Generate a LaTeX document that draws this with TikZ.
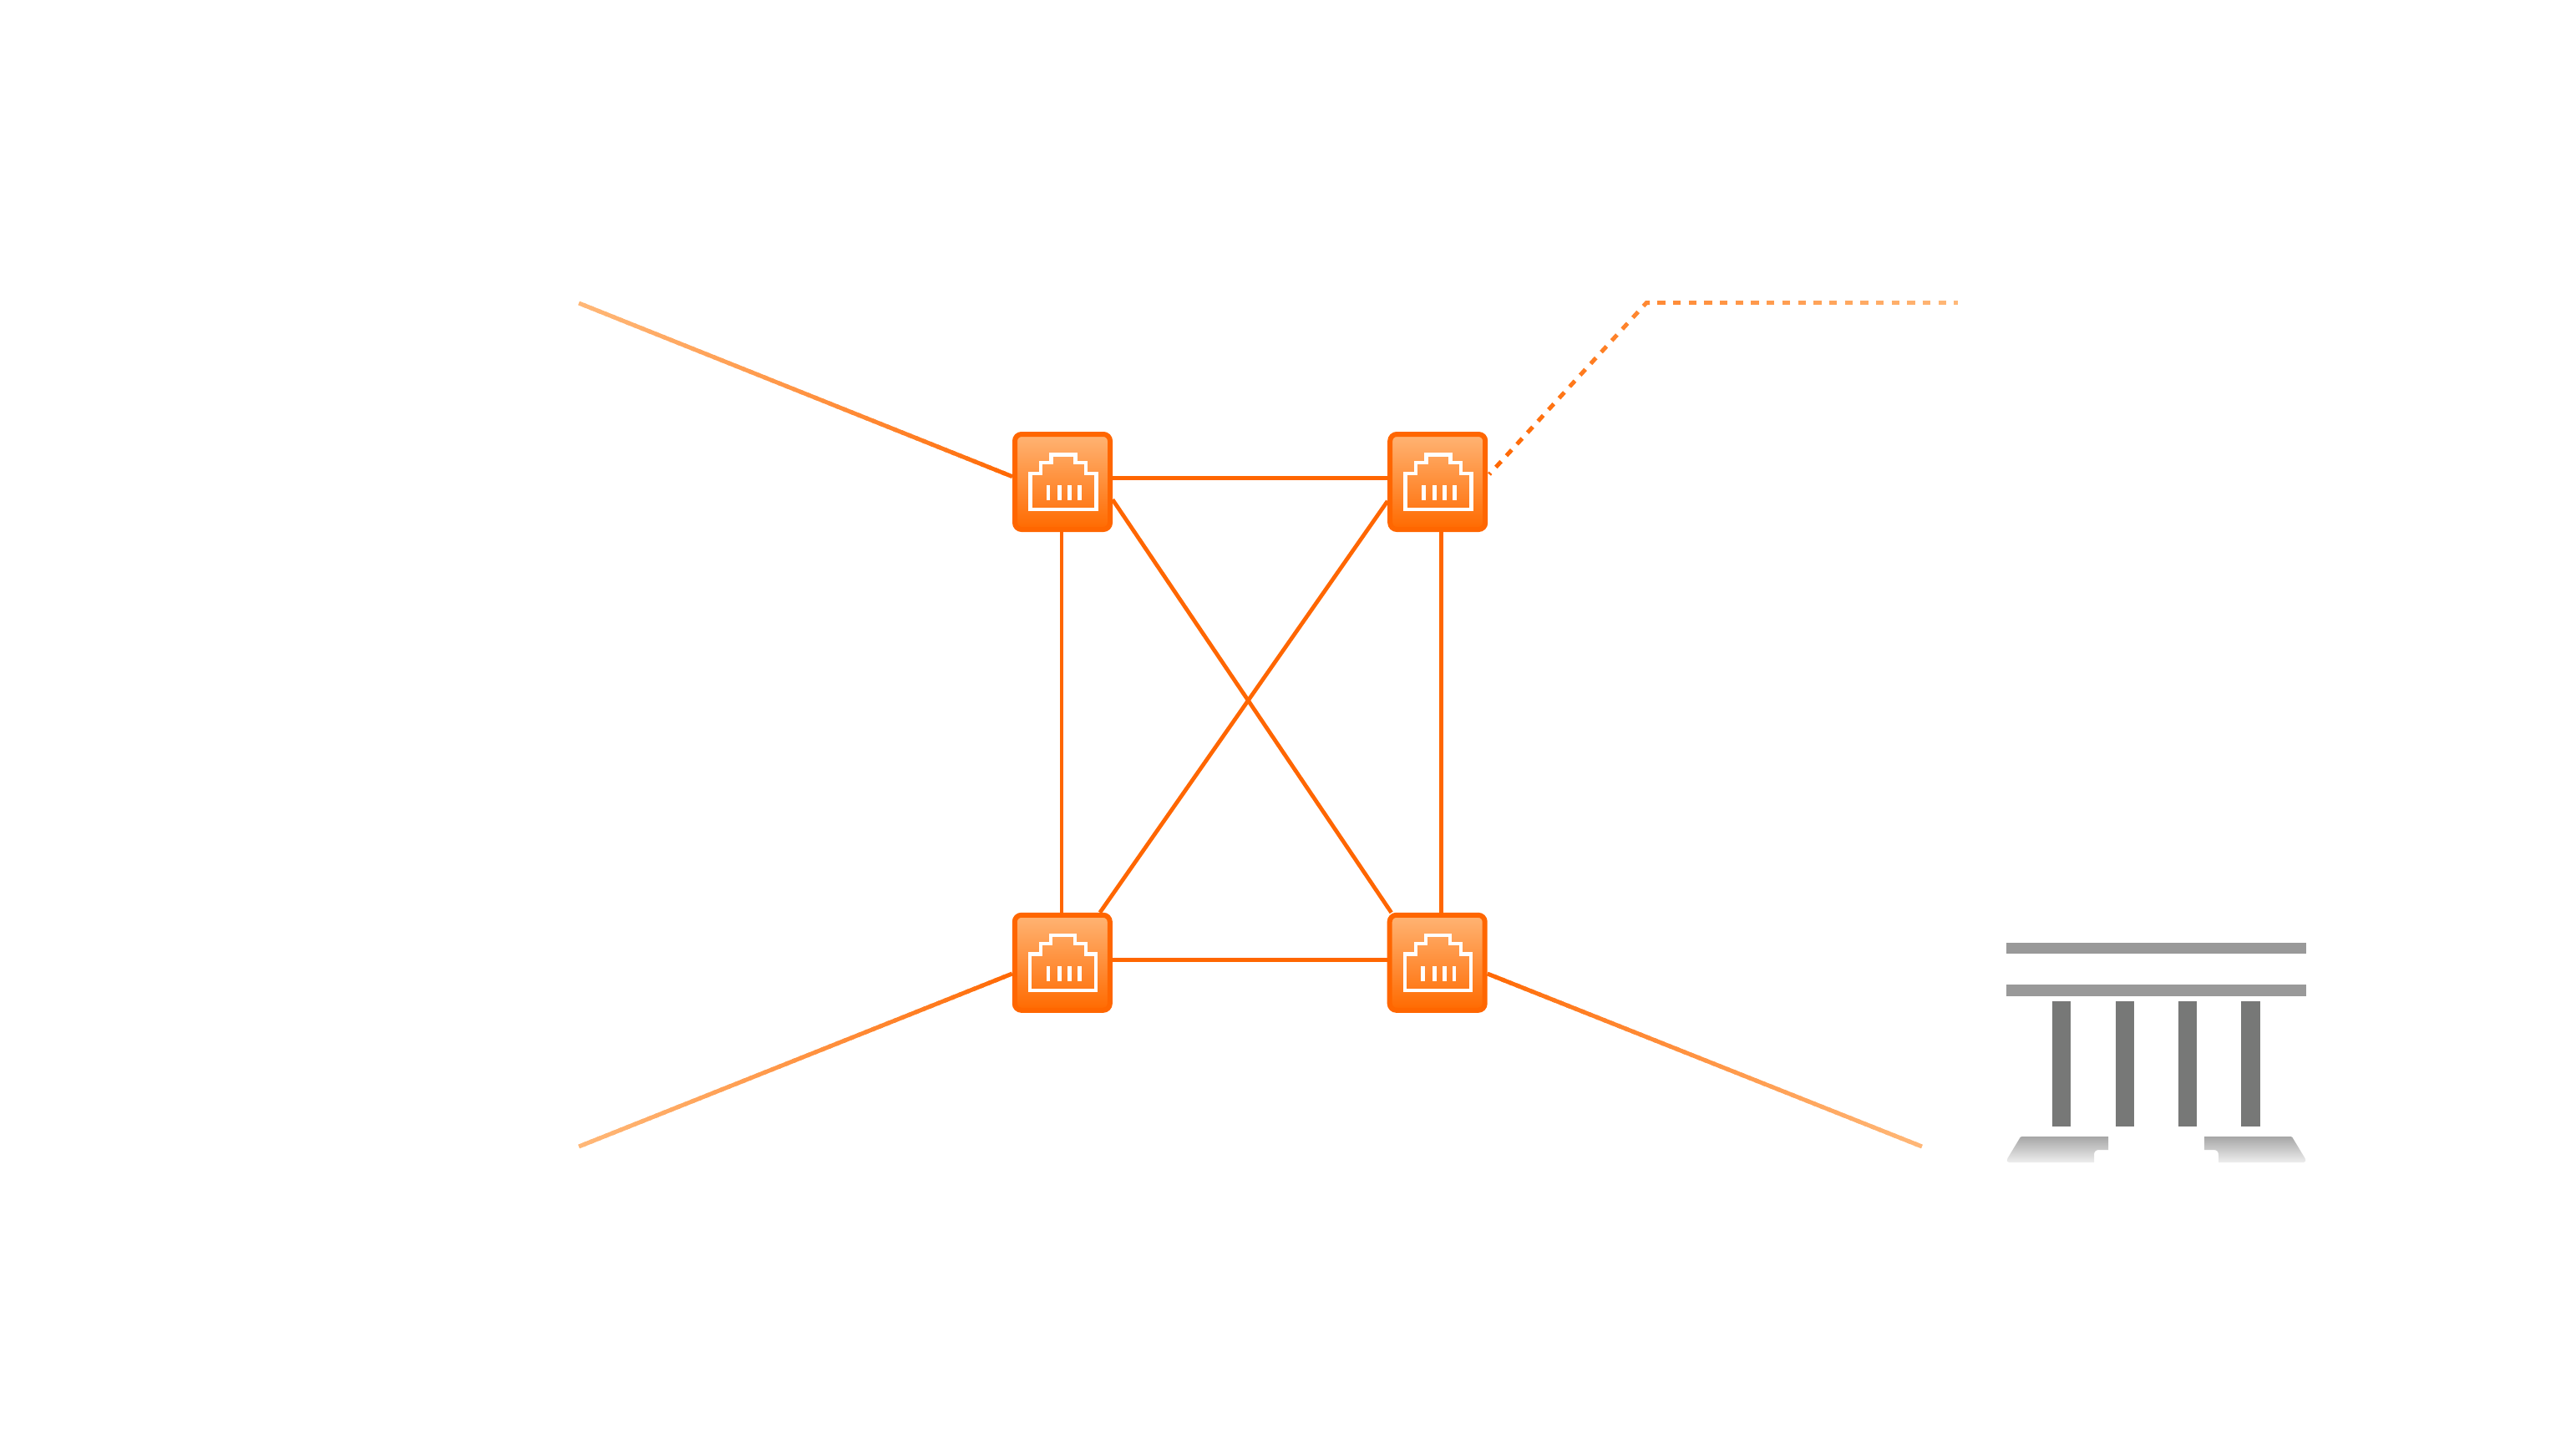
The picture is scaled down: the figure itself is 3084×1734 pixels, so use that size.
\documentclass[tikz,border=0pt]{standalone}
\usetikzlibrary{calc,backgrounds}
\definecolor{lineNear}{HTML}{FF6600}
\definecolor{lineFar}{HTML}{FFB878}
\definecolor{faceTop}{HTML}{FFB474}
\definecolor{faceBottom}{HTML}{FF6A00}
\definecolor{railGray}{HTML}{999999}
\definecolor{pillarGray}{HTML}{777877}
\definecolor{baseTop}{HTML}{A6A6A6}
\definecolor{baseBottom}{HTML}{EEEEEE}
\tikzset{
  switchbox/.style={rectangle,draw=lineNear,line width=6pt,rounded corners=8pt,
    top color=faceTop,bottom color=faceBottom,minimum size=114pt,inner sep=0pt,outer sep=3pt},
  link/.style={draw=lineNear,line width=4.8pt},
  fadelink/.style={line width=5pt},
  rjport/.pic={
    \draw[white,line width=4.4pt,miter limit=4]
      (-38.7,33) -- (-38.7,-10.3) -- (-26,-10.3) -- (-26,-23) -- (-13.7,-23) -- (-13.7,-32.7)
      -- (15.3,-32.7) -- (15.3,-23) -- (28,-23) -- (28,-10.3) -- (40.3,-10.3) -- (40.3,33) -- cycle;
    \fill[white] (-19.3,4) rectangle (-14.7,21.7);
    \fill[white] (-6,4) rectangle (-1,21.7);
    \fill[white] (6,4) rectangle (11,21.7);
    \fill[white] (18,4) rectangle (22.7,21.7);
  }
}
\newcommand\gradlink[2]{%
  \foreach \i in {1,...,60}{%
    \pgfmathsetmacro\ga{(\i-1)/60}%
    \pgfmathsetmacro\gb{min((\i+0.4)/60,1)}%
    \pgfmathsetmacro\gm{100*((\i-0.5)/60)^0.8}%
    \draw[fadelink,draw={lineFar!\gm!lineNear}] ($(#1)!\ga!(#2)$) -- ($(#1)!\gb!(#2)$);
  }%
}
\begin{document}
\begin{tikzpicture}[x=1pt,y=-1pt]
\useasboundingbox (0,0) rectangle (3084,1734);
\node[switchbox] (tl) at (1272,577) {};
\node[switchbox] (tr) at (1721.2,577) {};
\node[switchbox] (bl) at (1271.8,1152.8) {};
\node[switchbox] (br) at (1720.7,1152.8) {};
\pic at (tl) {rjport};
\pic at (tr) {rjport};
\pic at (bl) {rjport};
\pic at (br) {rjport};
\coordinate (farTL) at (693,363);
\coordinate (farBL) at (693,1373);
\coordinate (farBR) at (2301,1373);
\coordinate (dashBend) at (1971,362.7);
\coordinate (dashEnd) at (2344,362.7);
\coordinate (outTL) at ($(tl.west)+(0,-6.3)$);
\coordinate (outBL) at ($(bl.west)+(0,13.2)$);
\coordinate (outBR) at ($(br.east)+(0,13.2)$);
\coordinate (dashStart) at ($(tr.east)+(1.8,-9)$);
\begin{scope}[on background layer]
  \draw[link] ($(tl.east)+(0,-4.7)$) -- ($(tr.west)+(0,-4.7)$);
  \draw[link] ($(bl.east)+(0,-3.5)$) -- ($(br.west)+(0,-3.5)$);
  \draw[link] ($(tl.south)+(-1,0)$) -- ($(bl.north)+(-0.8,0)$);
  \draw[link] ($(tr.south)+(4.5,0)$) -- ($(br.north)+(5,0)$);
  \draw[link] ($(tl.east)+(0,21.3)$) -- ($(br.north west)+(5,0)$);
  \draw[link] ($(tr.west)+(0,23)$) -- ($(bl.north east)+(-15,0)$);
  \gradlink{outTL}{farTL}
  \gradlink{outBL}{farBL}
  \gradlink{outBR}{farBR}
  \foreach \k in {0,...,35}{%
    \pgfmathsetmacro\sa{max(-7.07+18.67*\k,0)}%
    \pgfmathsetmacro\sb{min(-7.07+18.67*\k+9.33,651)}%
    \pgfmathsetmacro\gm{(\sa+\sb)/2/651*100}%
    \ifdim\sb pt<278.2pt
      \pgfmathsetmacro\fa{\sa/278.2}\pgfmathsetmacro\fb{\sb/278.2}%
      \draw[fadelink,draw={lineFar!\gm!lineNear}] ($(dashStart)!\fa!(dashBend)$) -- ($(dashStart)!\fb!(dashBend)$);
    \else
      \ifdim\sa pt>278.2pt
        \pgfmathsetmacro\fa{(\sa-278.2)/373}\pgfmathsetmacro\fb{(\sb-278.2)/373}%
        \draw[fadelink,draw={lineFar!\gm!lineNear}] ($(dashBend)!\fa!(dashEnd)$) -- ($(dashBend)!\fb!(dashEnd)$);
      \else
        \pgfmathsetmacro\fa{\sa/278.2}\pgfmathsetmacro\fb{(\sb-278.2)/373}%
        \draw[fadelink,draw={lineFar!\gm!lineNear}] ($(dashStart)!\fa!(dashBend)$) -- (dashBend) -- ($(dashBend)!\fb!(dashEnd)$);
      \fi
    \fi
  }
\end{scope}
% bridge-like grey symbol
\fill[railGray] (2402,1129) rectangle (2761,1142);
\fill[railGray] (2402,1179) rectangle (2761,1193);
\fill[pillarGray] (2457.3,1199) rectangle (2479.3,1349);
\fill[pillarGray] (2532.7,1199) rectangle (2555,1349);
\fill[pillarGray] (2608,1199) rectangle (2630.3,1349);
\fill[pillarGray] (2683.3,1199) rectangle (2705.7,1349);
\shade[top color=baseTop,bottom color=baseBottom]
  (2524,1361) -- (2421,1361) .. controls (2419,1361) and (2418.5,1362) .. (2418,1363)
  -- (2403.5,1387) .. controls (2402,1390) and (2403,1392) .. (2405,1392)
  -- (2507,1392) -- (2507,1383) .. controls (2507,1379) and (2509,1377) .. (2513,1377)
  -- (2524,1377) -- cycle;
\shade[top color=baseTop,bottom color=baseBottom]
  (2639,1361) -- (2742,1361) .. controls (2744,1361) and (2744.5,1362) .. (2745,1363)
  -- (2759.5,1387) .. controls (2761,1390) and (2760,1392) .. (2758,1392)
  -- (2656,1392) -- (2656,1383) .. controls (2656,1379) and (2654,1377) .. (2650,1377)
  -- (2639,1377) -- cycle;
\end{tikzpicture}
\end{document}
